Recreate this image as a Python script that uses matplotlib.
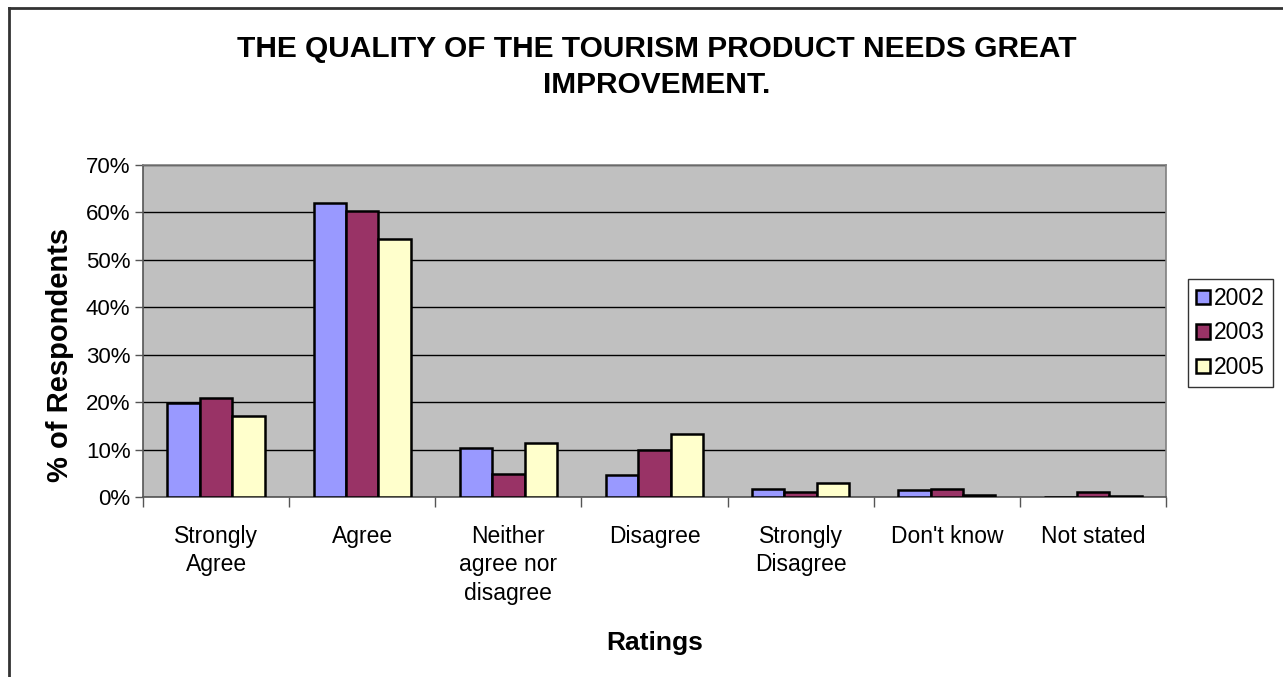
import numpy as np
import matplotlib
matplotlib.use("Agg")
import matplotlib.pyplot as plt
from matplotlib.lines import Line2D
from matplotlib.ticker import FuncFormatter, FixedLocator

plt.rcParams["font.family"] = ["Liberation Sans", "DejaVu Sans"]

categories = ["Strongly\nAgree", "Agree", "Neither\nagree nor\ndisagree",
              "Disagree", "Strongly\nDisagree", "Don't know", "Not stated"]
years = ["2002", "2003", "2005"]
pct_2002 = [19.9, 61.9, 10.3, 4.6, 1.7, 1.5, 0.0]
pct_2003 = [20.8, 60.2, 4.9, 10.0, 1.1, 1.7, 1.0]
pct_2005 = [17.1, 54.3, 11.4, 13.3, 3.0, 0.4, 0.3]
colors = ["#9999FF", "#993366", "#FFFFCC"]

W, H = 1283, 677
fig = plt.figure(figsize=(W / 100, H / 100), dpi=100)
ax = fig.add_axes([143 / W, 1 - 497 / H, 1023 / W, 332 / H])
ax.set_facecolor("#C0C0C0")

x = np.arange(len(categories))
bw = 0.222
for i, (vals, c, yr) in enumerate(zip([pct_2002, pct_2003, pct_2005], colors, years)):
    ax.bar(x + (i - 1) * bw, vals, bw, color=c, edgecolor="black",
           linewidth=1.8, label=yr, zorder=3)

ax.set_xlim(-0.5, len(categories) - 0.5)
ax.set_ylim(0, 70)
ax.yaxis.set_major_locator(FixedLocator(np.arange(0, 71, 10)))
ax.yaxis.set_major_formatter(FuncFormatter(lambda v, p: f"{v:.0f}%"))
ax.grid(axis="y", color="black", linewidth=1.0, zorder=1)

# category labels centred, tick marks on the category boundaries
ax.set_xticks(np.arange(-0.5, len(categories)), minor=False)
ax.set_xticklabels([])
ax.set_xticks(x, minor=True)
ax.set_xticklabels(categories, minor=True, fontsize=16.5, linespacing=1.3,
                   va="top")
ax.tick_params(axis="x", which="minor", length=0, pad=20)
ax.tick_params(axis="x", which="major", length=7, width=1, color="#555555")
ax.tick_params(axis="y", length=6, width=1, color="#555555", labelsize=16, pad=3)

for side in ["top", "right"]:
    ax.spines[side].set_color("#808080")
for side in ["left", "bottom"]:
    ax.spines[side].set_color("#555555")
for s in ax.spines.values():
    s.set_linewidth(1.2)

ax.set_xlabel("Ratings", fontsize=19, fontweight="bold", labelpad=19)
fig.text(60 / W, 1 - 355 / H, "% of Respondents", rotation=90,
         ha="center", va="center", fontsize=21, fontweight="bold")

fig.text(657 / W, 1 - 67 / H,
         "THE QUALITY OF THE TOURISM PRODUCT NEEDS GREAT\nIMPROVEMENT.",
         ha="center", va="center", fontsize=21.5, fontweight="bold",
         linespacing=1.35)

handles = [plt.Rectangle((0, 0), 1, 1, facecolor=c, edgecolor="black", linewidth=1.8)
           for c in colors]
leg = fig.legend(handles, years, loc="upper left",
                 bbox_to_anchor=(1188 / W, 1 - 279 / H), fontsize=16.5,
                 frameon=True, fancybox=False, handlelength=0.6, handleheight=0.6,
                 handletextpad=0.2, labelspacing=0.5, borderpad=0.35,
                 borderaxespad=0)
leg.get_frame().set_edgecolor("black")
leg.get_frame().set_linewidth(1.0)

# outer chart border along the left and top edges
fig.add_artist(Line2D([9 / W, 9 / W], [0, 1 - 8 / H], transform=fig.transFigure,
                      color="#333333", linewidth=2))
fig.add_artist(Line2D([9 / W, 1], [1 - 8 / H, 1 - 8 / H], transform=fig.transFigure,
                      color="#333333", linewidth=2))

fig.savefig("out.png", dpi=100)
